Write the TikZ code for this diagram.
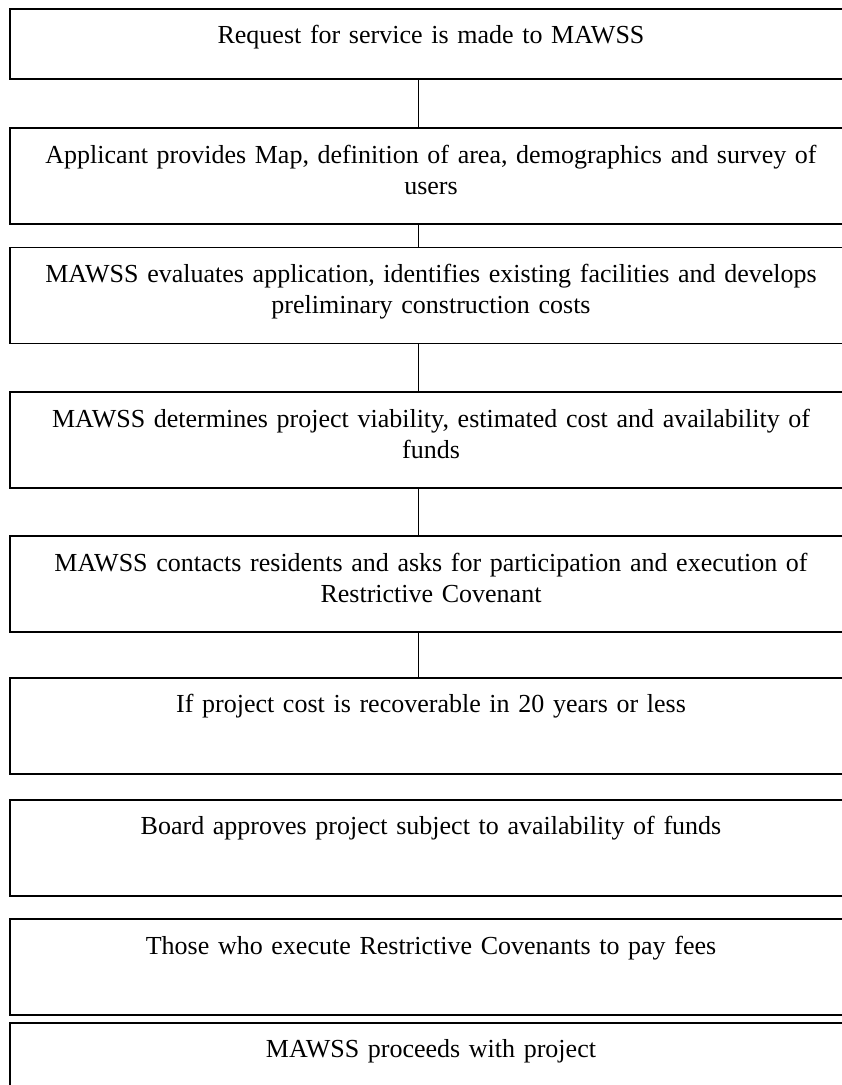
\documentclass[tikz,border=0pt]{standalone}
\usepackage{fontspec}
\setmainfont{Liberation Serif}
\usetikzlibrary{positioning}

\begin{document}
\begin{tikzpicture}[
    x=1pt, y=1pt,
    every node/.style={font=\fontsize{13}{15.5}\selectfont},
    stepbox/.style={draw=black, line width=0.9pt, align=center,
                    text width=410pt, inner xsep=5.5pt, inner ysep=5pt,
                    text height=12.5pt, text depth=25.5pt},
    shortbox/.style={stepbox, text depth=12.5pt},
    link/.style={draw=black, line width=0.8pt},
]
\useasboundingbox (0,0) rectangle (420.5,-542.5);
\coordinate (spine) at (209.25,0);

% Process steps (top to bottom)
\node[shortbox, anchor=north] (request) at (215.5,-4) {Request for service is made to MAWSS};
\node[stepbox] (applicant) [below=23.75pt of request]   {Applicant provides Map, definition of area, demographics and survey of\\
                                                         users};
\node[stepbox] (evaluate)  [below=10.75pt of applicant] {MAWSS evaluates application, identifies existing facilities and develops\\
                                                         preliminary construction costs};
\node[stepbox] (viability) [below=23.5pt of evaluate]   {MAWSS determines project viability, estimated cost and availability of\\
                                                         funds};
\node[stepbox] (residents) [below=23pt of viability]    {MAWSS contacts residents and asks for participation and execution of\\
                                                         Restrictive Covenant};
\node[stepbox] (recover)   [below=22pt of residents]    {If project cost is recoverable in 20 years or less};
\node[stepbox] (board)     [below=12pt of recover]      {Board approves project subject to availability of funds};
\node[stepbox] (fees)      [below=10.75pt of board]     {Those who execute Restrictive Covenants to pay fees};
\node[stepbox] (proceed)   [below=3pt of fees]          {MAWSS proceeds with project};

% Connectors between the first six steps
\draw[link] (request.south -| spine)   -- (applicant.north -| spine);
\draw[link] (applicant.south -| spine) -- (evaluate.north -| spine);
\draw[link] (evaluate.south -| spine)  -- (viability.north -| spine);
\draw[link] (viability.south -| spine) -- (residents.north -| spine);
\draw[link] (residents.south -| spine) -- (recover.north -| spine);
\end{tikzpicture}
\end{document}
